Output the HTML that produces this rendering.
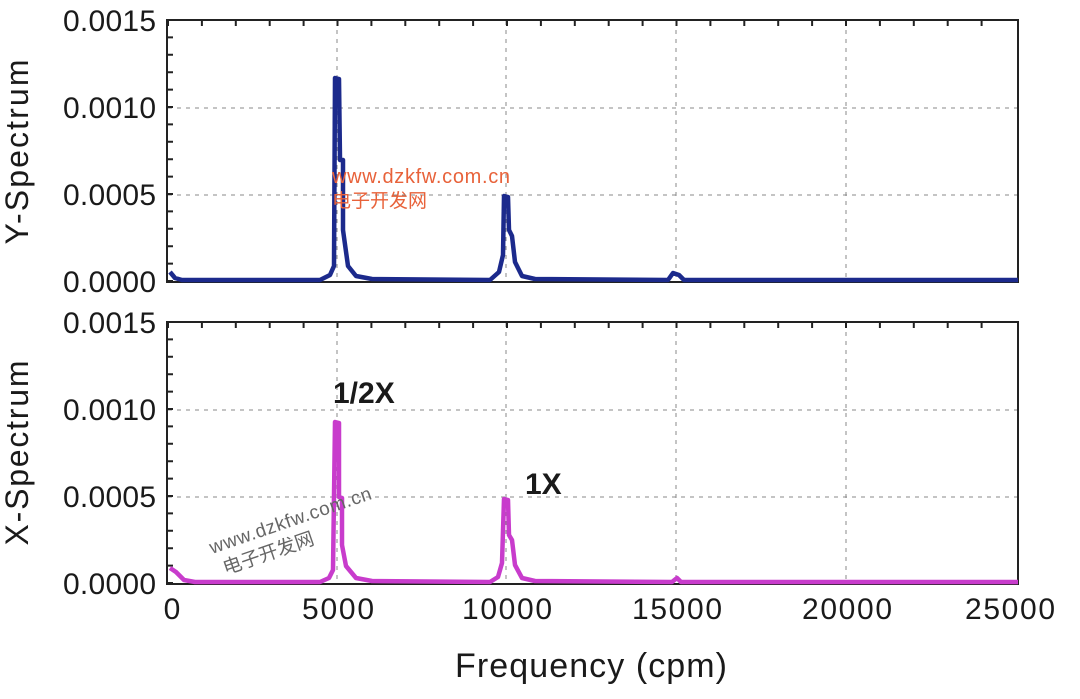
<!DOCTYPE html>
<html><head><meta charset="utf-8"><style>
html,body{margin:0;padding:0;background:#fff;}
svg{display:block;}
text{font-family:"Liberation Sans","Noto Sans CJK SC",sans-serif;}
</style></head><body>
<svg width="1080" height="699" viewBox="0 0 1080 699" xmlns="http://www.w3.org/2000/svg">
<g stroke="#888" stroke-width="1" stroke-dasharray="4,5">
 <line x1="337" y1="21" x2="337" y2="281"/><line x1="506" y1="21" x2="506" y2="281"/>
 <line x1="676" y1="21" x2="676" y2="281"/><line x1="846" y1="21" x2="846" y2="281"/>
 <line x1="168" y1="108" x2="1018" y2="108"/><line x1="168" y1="195" x2="1018" y2="195"/>
 <line x1="337" y1="323" x2="337" y2="583"/><line x1="506" y1="323" x2="506" y2="583"/>
 <line x1="676" y1="323" x2="676" y2="583"/><line x1="846" y1="323" x2="846" y2="583"/>
 <line x1="168" y1="410" x2="1018" y2="410"/><line x1="168" y1="497" x2="1018" y2="497"/>
</g>
<g fill="none" stroke="#222" stroke-width="2">
 <rect x="167" y="20" width="851" height="262"/>
 <rect x="167" y="322" width="851" height="262"/>
</g>
<g fill="none" stroke="#222" stroke-width="2">
 <path d="M168,20 v6 m33.9,-6 v6 m33.9,-6 v6 m33.9,-6 v6 m33.9,-6 v6 m33.9,-6 v6 m33.9,-6 v6 m33.9,-6 v6 m33.9,-6 v6 m33.9,-6 v6 m33.9,-6 v6 m33.9,-6 v6 m33.9,-6 v6 m33.9,-6 v6 m33.9,-6 v6 m33.9,-6 v6 m33.9,-6 v6 m33.9,-6 v6 m33.9,-6 v6 m33.9,-6 v6 m33.9,-6 v6 m33.9,-6 v6 m33.9,-6 v6 m33.9,-6 v6 m33.9,-6 v6"/>
 <path d="M168,322 v6 m33.9,-6 v6 m33.9,-6 v6 m33.9,-6 v6 m33.9,-6 v6 m33.9,-6 v6 m33.9,-6 v6 m33.9,-6 v6 m33.9,-6 v6 m33.9,-6 v6 m33.9,-6 v6 m33.9,-6 v6 m33.9,-6 v6 m33.9,-6 v6 m33.9,-6 v6 m33.9,-6 v6 m33.9,-6 v6 m33.9,-6 v6 m33.9,-6 v6 m33.9,-6 v6 m33.9,-6 v6 m33.9,-6 v6 m33.9,-6 v6 m33.9,-6 v6 m33.9,-6 v6"/>
 <path d="M167,281 h6 m-6,-17.4 h6 m-6,-17.4 h6 m-6,-17.4 h6 m-6,-17.4 h6 m-6,-17.4 h6 m-6,-17.4 h6 m-6,-17.4 h6 m-6,-17.4 h6 m-6,-17.4 h6 m-6,-17.4 h6 m-6,-17.4 h6 m-6,-17.4 h6 m-6,-17.4 h6 m-6,-17.4 h6"/>
 <path d="M167,583 h6 m-6,-17.4 h6 m-6,-17.4 h6 m-6,-17.4 h6 m-6,-17.4 h6 m-6,-17.4 h6 m-6,-17.4 h6 m-6,-17.4 h6 m-6,-17.4 h6 m-6,-17.4 h6 m-6,-17.4 h6 m-6,-17.4 h6 m-6,-17.4 h6 m-6,-17.4 h6 m-6,-17.4 h6"/>
</g>
<path fill="none" stroke="#1c2a8c" stroke-width="4.5" stroke-linejoin="round" d="M170,272 L175,278 L182,280 L320,280 L330,275 L334,266 L335,78 L339,79 L340,160 L343,160 L343,230 L348,266 L356,276 L372,279 L490,280 L499,272 L503,255 L504,196 L508,197 L509,230 L512,236 L515,262 L522,276 L535,279 L668,280 L673,273 L679,275 L684,280 L1018,280"/>
<path fill="none" stroke="#c83ccc" stroke-width="4.5" stroke-linejoin="round" d="M170,568 L176,572 L184,580 L195,582 L320,582 L329,578 L333,570 L335,422 L339,423 L339,497 L342,498 L342,545 L346,566 L356,578 L372,581 L490,582 L498,577 L502,563 L504,499 L508,500 L509,535 L512,540 L515,565 L522,578 L535,581 L672,582 L677,578 L681,582 L1018,582"/>
<g font-size="30" fill="#1a1a1a" text-anchor="end">
 <text x="156" y="31" textLength="93">0.0015</text><text x="156" y="118" textLength="93">0.0010</text><text x="156" y="205" textLength="93">0.0005</text><text x="156" y="292" textLength="93">0.0000</text>
 <text x="156" y="333" textLength="93">0.0015</text><text x="156" y="420" textLength="93">0.0010</text><text x="156" y="507" textLength="93">0.0005</text><text x="156" y="594" textLength="93">0.0000</text>
</g>
<g font-size="30" fill="#1a1a1a" text-anchor="middle">
 <text x="172" y="619">0</text><text x="338" y="619" textLength="72">5000</text><text x="507" y="619" textLength="90">10000</text>
 <text x="677" y="619" textLength="90">15000</text><text x="847" y="619" textLength="90">20000</text><text x="1010" y="619" textLength="90">25000</text>
 <text x="591" y="677" font-size="34" textLength="272">Frequency (cpm)</text>
 <text transform="translate(28,152) rotate(-90)" font-size="32" textLength="185">Y-Spectrum</text>
 <text transform="translate(28,453) rotate(-90)" font-size="32" textLength="185">X-Spectrum</text>
</g>
<text x="333" y="403" font-size="30" font-weight="bold" fill="#1a1a1a">1/2X</text>
<text x="525" y="494" font-size="30" font-weight="bold" fill="#1a1a1a">1X</text>
<text x="332" y="183" font-size="20" fill="#e8623a" textLength="178">www.dzkfw.com.cn</text>
<text x="332" y="207" font-size="19" fill="#e8623a">电子开发网</text>
<g transform="translate(212,554) rotate(-19)" fill="#666" font-size="19">
 <text x="0" y="0" textLength="170">www.dzkfw.com.cn</text>
 <text x="6" y="24">电子开发网</text>
</g>
</svg>
</body></html>
